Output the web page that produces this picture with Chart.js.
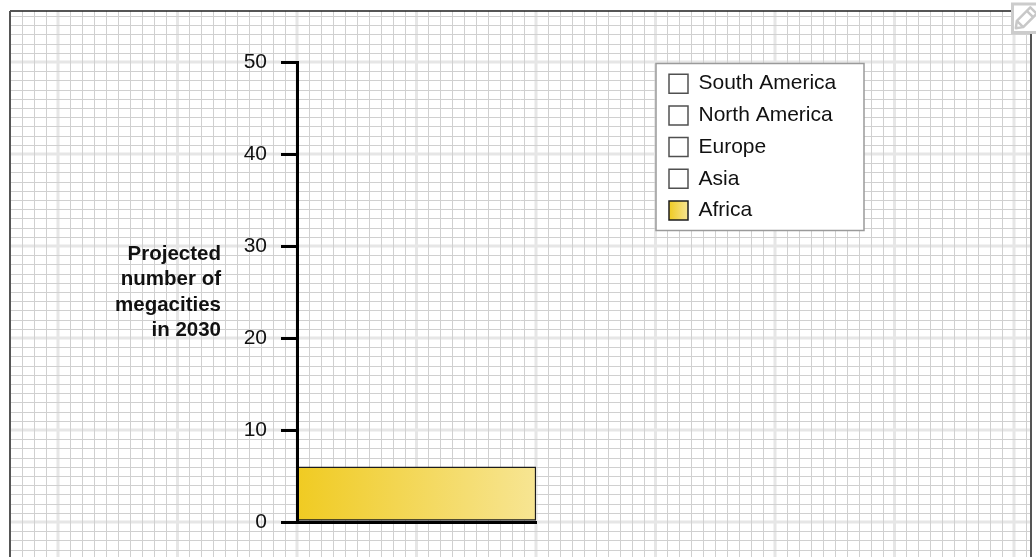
<!DOCTYPE html>
<html>
<head>
<meta charset="utf-8">
<title>Projected megacities 2030</title>
<script src="https://cdn.jsdelivr.net/npm/chart.js@4.4.1/dist/chart.umd.min.js"></script>
<style>
  html, body { margin: 0; padding: 0; background: #fff; }
  canvas { display: block; }
</style>
</head>
<body>
<canvas id="chart" width="1036" height="557"></canvas>
<script>
// data
var categories = ['2030'];
var continents = ['Africa', 'Asia', 'Europe', 'North America', 'South America'];
var africa = [6];
var asia = [null];
var europe = [null];
var northAmerica = [null];
var southAmerica = [null];
var yTicks = [0, 10, 20, 30, 40, 50];
var yTitle = ['Projected', 'number of', 'megacities', 'in 2030'];

var FONT = "'Liberation Sans', Arial, Helvetica, sans-serif";
var LEGEND_PAD = 10.7;
var SWATCH = 19;

Chart.defaults.font.family = FONT;
Chart.defaults.font.size = 21;
Chart.defaults.color = '#111';

function goldGradient(ctx, x0, x1) {
  if (!isFinite(x0) || !isFinite(x1) || x1 <= x0) return '#f2d550';
  var g = ctx.createLinearGradient(x0, 0, x1, 0);
  g.addColorStop(0, '#f0cb22');
  g.addColorStop(1, '#f7e593');
  return g;
}

function africaFill(context) {
  var area = context.chart.chartArea;
  if (!area) return '#f2d550';
  return goldGradient(context.chart.ctx, area.left, area.right);
}

// graph paper behind everything, lined up with the scales
var paper = {
  id: 'paper',
  beforeDraw: function (chart) {
    var c = chart.ctx, xs = chart.scales.x, ys = chart.scales.y;
    var L = 10, T = 11, R = 1031, B = chart.height;
    var dx = xs.width / 20;
    var k, v, x, y;
    c.save();
    c.fillStyle = '#fff';
    c.fillRect(0, 0, chart.width, chart.height);
    c.beginPath();
    c.rect(L, T, R - L, B - T);
    c.clip();

    // major lines: wide and pale
    c.strokeStyle = '#e6e6e6';
    c.lineWidth = 3;
    c.beginPath();
    for (k = -40; k <= 80; k += 10) {
      x = xs.left + k * dx;
      c.moveTo(x, T); c.lineTo(x, B);
    }
    for (v = -10; v <= 60; v += 10) {
      y = ys.getPixelForValue(v);
      c.moveTo(L, y); c.lineTo(R, y);
    }
    c.stroke();

    // minor lines: thin, a little darker
    c.strokeStyle = '#d0d0d0';
    c.lineWidth = 1;
    c.beginPath();
    for (k = -40; k <= 80; k++) {
      if (k % 10 === 0) continue;
      x = Math.round(xs.left + k * dx) + 0.5;
      c.moveTo(x, T); c.lineTo(x, B);
    }
    for (v = -10; v <= 60; v++) {
      if (v % 10 === 0) continue;
      y = Math.round(ys.getPixelForValue(v)) + 0.5;
      c.moveTo(L, y); c.lineTo(R, y);
    }
    c.stroke();
    c.restore();

    // legend panel
    var lg = chart.legend;
    if (lg) {
      c.save();
      c.fillStyle = '#fff';
      c.strokeStyle = '#9a9a9a';
      c.lineWidth = 1.5;
      c.fillRect(656, 63.5, 208, 167);
      c.strokeRect(656, 63.5, 208, 167);
      c.restore();
    }
  },
  afterDraw: function (chart) {
    var c = chart.ctx, ys = chart.scales.y;
    c.save();
    // frame
    c.strokeStyle = '#1e1e1e';
    c.lineWidth = 1.5;
    c.beginPath();
    c.moveTo(10, 11); c.lineTo(1011, 11);
    c.stroke();
    c.strokeStyle = '#555';
    c.lineWidth = 2;
    c.beginPath();
    c.moveTo(10, 11); c.lineTo(10, chart.height);
    c.moveTo(1031, 33); c.lineTo(1031, chart.height);
    c.stroke();

    // pencil button
    c.fillStyle = '#fff';
    c.fillRect(1011, 3, 32, 30);
    c.strokeStyle = '#cccccc';
    c.lineWidth = 3;
    c.strokeRect(1012.5, 4, 32, 28.5);
    c.translate(1025, 19);
    c.rotate(-Math.PI / 4);
    c.lineWidth = 2.5;
    c.strokeStyle = '#c8c8c8';
    c.lineJoin = 'round';
    c.beginPath();
    c.moveTo(-13, 0); c.lineTo(-7, -4.5); c.lineTo(12, -4.5);
    c.lineTo(12, 4.5); c.lineTo(-7, 4.5); c.closePath();
    c.moveTo(-7, -4.5); c.lineTo(-7, 4.5);
    c.moveTo(7, -4.5); c.lineTo(7, 4.5);
    c.stroke();
    c.restore();

    // y title, horizontal and right aligned
    c.save();
    c.font = 'bold 20.5px ' + FONT;
    c.fillStyle = '#111';
    c.textAlign = 'right';
    c.textBaseline = 'middle';
    var mid = ys.getPixelForValue((yTicks[0] + yTicks[yTicks.length - 1]) / 2);
    for (var i = 0; i < yTitle.length; i++) {
      c.fillText(yTitle[i], 221, mid + (i - (yTitle.length - 1) / 2) * 25.4 + 0.5);
    }
    c.restore();
  }
};

// park the legend in the empty space to the right
var legendPlace = {
  id: 'legendPlace',
  afterLayout: function (chart) {
    var lg = chart.legend;
    if (!lg) return;
    lg.left = 658.3;
    lg.top = 62.5;
    lg.width = 206;
    lg.height = 220;
    lg.right = lg.left + lg.width;
    lg.bottom = lg.top + lg.height;
  }
};

var series = [africa, asia, europe, northAmerica, southAmerica];
var datasets = continents.map(function (name, i) {
  var filled = name === 'Africa';
  return {
    label: name,
    data: series[i],
    backgroundColor: filled ? africaFill : '#ffffff',
    borderColor: filled ? '#1c1c1c' : '#505050',
    borderWidth: 1.5,
    borderSkipped: false,
    barPercentage: 1,
    categoryPercentage: 1
  };
});

new Chart(document.getElementById('chart').getContext('2d'), {
  type: 'bar',
  data: { labels: categories, datasets: datasets },
  plugins: [legendPlace, paper],
  options: {
    responsive: false,
    animation: false,
    events: [],
    layout: { padding: { top: 62, bottom: 35, left: 0, right: 500 } },
    plugins: {
      tooltip: { enabled: false },
      legend: {
        position: 'chartArea',
        align: 'start',
        reverse: true,
        labels: {
          boxWidth: SWATCH,
          boxHeight: SWATCH,
          padding: LEGEND_PAD,
          color: '#111',
          font: { size: 21 },
          generateLabels: function (chart) {
            var items = Chart.defaults.plugins.legend.labels.generateLabels(chart);
            var lg = chart.legend;
            items.forEach(function (it) {
              if (it.text === 'Africa' && lg) {
                var x0 = lg.left + LEGEND_PAD;
                it.fillStyle = goldGradient(chart.ctx, x0, x0 + SWATCH);
              }
            });
            return items;
          }
        }
      }
    },
    scales: {
      x: {
        stacked: true,
        grid: { display: false, drawTicks: false },
        ticks: { display: false },
        border: { display: true, color: '#000', width: 3, z: 1 },
        afterFit: function (scale) { scale.height = 0; }
      },
      y: {
        stacked: true,
        min: yTicks[0],
        max: yTicks[yTicks.length - 1],
        ticks: { stepSize: yTicks[1] - yTicks[0], padding: 14, color: '#111', font: { size: 21 } },
        grid: { drawOnChartArea: false, drawTicks: true, tickLength: 16, lineWidth: 3, color: '#000' },
        border: { display: true, color: '#000', width: 3, z: 1 },
        afterFit: function (scale) { scale.width = 297; }
      }
    }
  }
});
</script>
</body>
</html>
